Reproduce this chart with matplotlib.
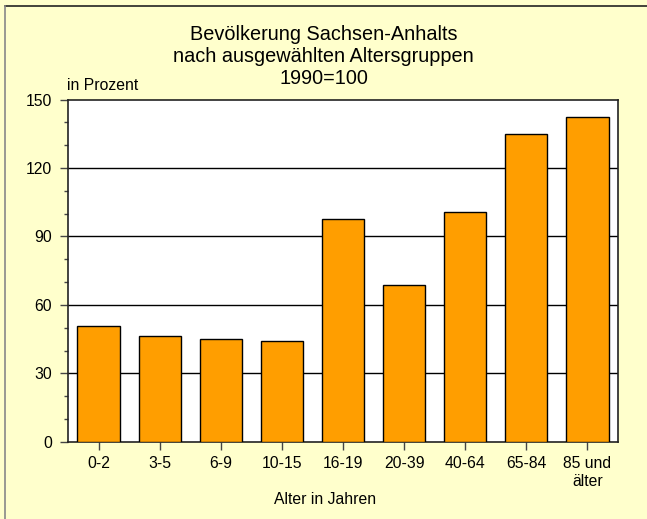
import matplotlib
matplotlib.use("Agg")
import matplotlib.pyplot as plt
from matplotlib.ticker import MultipleLocator
from matplotlib.lines import Line2D

categories = ["0-2", "3-5", "6-9", "10-15", "16-19", "20-39", "40-64", "65-84", "85 und\nälter"]
values = [50.9, 46.3, 44.9, 44.0, 97.5, 68.6, 100.7, 135.0, 142.3]
yticks = [0, 30, 60, 90, 120, 150]

title = "Bevölkerung Sachsen-Anhalts\nnach ausgewählten Altersgruppen\n1990=100"

plt.rcParams['font.family'] = ['Liberation Sans', 'DejaVu Sans']

fig = plt.figure(figsize=(6.47, 5.19), dpi=100)
fig.patch.set_facecolor('#FFFFCC')
W, H = 647, 519
ax = fig.add_axes([68 / W, 1 - 441.7 / H, 550 / W, 342 / H])
ax.set_facecolor('white')

x = list(range(len(categories)))
ax.bar(x, values, width=0.69, color='#FF9E00', edgecolor='black', linewidth=1.0, zorder=3)

ax.set_xlim(-0.5, len(categories) - 0.5)
ax.set_ylim(0, 150)
ax.set_yticks(yticks)
ax.yaxis.set_minor_locator(MultipleLocator(10))
ax.set_xticks(x)
ax.set_xticklabels(categories, fontsize=11.3, linespacing=1.2)
ax.tick_params(axis='y', which='major', length=5.8, width=1, color='#444444', labelsize=11.3, pad=5.5)
ax.tick_params(axis='y', which='minor', length=2.9, width=1, color='#444444')
ax.tick_params(axis='x', which='major', length=5.4, width=1, color='#444444', pad=5)

for v in yticks[1:-1]:
    ax.axhline(v, color='black', linewidth=1.0, zorder=1)

for s in ax.spines.values():
    s.set_color('#222222')
    s.set_linewidth(1.2)

fig.text(323.5 / W, 1 - 56 / H, title, ha='center', va='center', fontsize=14.3, linespacing=1.2)
fig.text(67 / W, 1 - 86 / H, "in Prozent", ha='left', va='center', fontsize=11.3)
fig.text(325 / W, 1 - 499 / H, "Alter in Jahren", ha='center', va='center', fontsize=11.3)

# frame border
fig.add_artist(Line2D([5 / W, 1], [1 - 6 / H, 1 - 6 / H], color='#222222', linewidth=1.2, transform=fig.transFigure))
fig.add_artist(Line2D([5 / W, 5 / W], [0, 1 - 6 / H], color='#888888', linewidth=1.2, transform=fig.transFigure))

fig.savefig("out.png", dpi=100, facecolor=fig.get_facecolor())
